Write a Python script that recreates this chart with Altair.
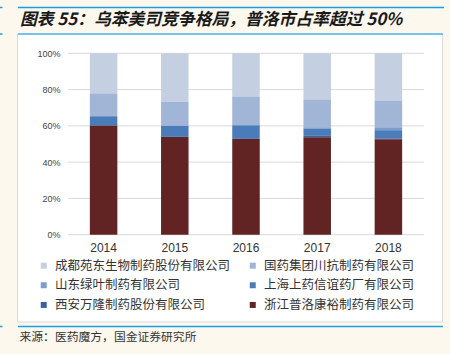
import altair as alt
import pandas as pd

years = ["2014", "2015", "2016", "2017", "2018"]
companies = [
    "成都苑东生物制药股份有限公司",
    "国药集团川抗制药有限公司",
    "山东绿叶制药有限公司",
    "上海上药信谊药厂有限公司",
    "西安万隆制药股份有限公司",
    "浙江普洛康裕制药有限公司",
]
colors = ["#c4cfe2", "#a1b5d6", "#7d9dcb", "#4a7cb9", "#3a62a0", "#622323"]

chengdu = [22.1, 26.6, 23.9, 25.7, 26.1]
guoyao = [12.6, 13.4, 15.8, 15.1, 14.7]
shandong = [0.0, 0.0, 0.0, 0.7, 1.6]
shanghai = [5.3, 6.1, 7.5, 4.0, 4.5]
xian = [0.0, 0.0, 0.0, 0.8, 0.5]
zhejiang = [60.0, 53.9, 52.8, 53.7, 52.6]

y_ticks = [0, 0.2, 0.4, 0.6, 0.8, 1.0]

title_text = "图表 55：乌苯美司竞争格局，普洛市占率超过 50%"
source_text = "来源：医药魔方，国金证券研究所"

series = [chengdu, guoyao, shandong, shanghai, xian, zhejiang]
rows = []
for ci, (name, vals) in enumerate(zip(companies, series)):
    for yr, v in zip(years, vals):
        rows.append({"year": yr, "company": name, "share": v / 100.0, "rank": 5 - ci})
df = pd.DataFrame(rows)

# legend is filled column by column (3 rows): reorder so it reads row by row
leg_idx = [0, 2, 4, 1, 3, 5]
leg_domain = [companies[i] for i in leg_idx]
leg_colors = [colors[i] for i in leg_idx]

OX, OY = 68, 53.3  # plot origin in page pixels
dummy = pd.DataFrame({"a": [0]})
grid_df = pd.DataFrame({"v": y_ticks})


def px(x):
    return alt.value(x - OX)


def py(y):
    return alt.value(y - OY)


yscale = alt.Scale(domain=[0, 1])
yaxis = alt.Axis(
    format=".0%", values=y_ticks, title=None,
    domain=False, ticks=False, grid=False,
    labelFontSize=9, labelColor="#444", labelPadding=8,
    labelFont="Liberation Sans", zindex=1,
)

panel = alt.Chart(dummy).mark_rect(fill="white", stroke="#d9d9d9", strokeWidth=1).encode(
    x=px(17.5), x2=px(442.5), y=py(34), y2=py(322)
)

grid = alt.Chart(grid_df).mark_rule(color="#d9d9d9", strokeWidth=1).encode(
    y=alt.Y("v:Q", scale=yscale, axis=yaxis),
    x=alt.value(0),
    x2=alt.value(356),
)

bars = alt.Chart(df).mark_bar(size=27.5).encode(
    x=alt.X(
        "year:N",
        sort=years,
        scale=alt.Scale(paddingInner=0.61, paddingOuter=0.305),
        axis=alt.Axis(
            title=None, labelAngle=0, ticks=False, domain=False, grid=False,
            labelFontSize=12, labelColor="#333", labelPadding=8,
            labelFont="Liberation Sans", zindex=1,
        ),
    ),
    y=alt.Y("share:Q", stack="zero", scale=yscale, axis=yaxis),
    color=alt.Color(
        "company:N",
        scale=alt.Scale(domain=leg_domain, range=leg_colors),
        legend=alt.Legend(
            title=None, orient="none", legendX=-30.5, legendY=206,
            columns=2, columnPadding=16, rowPadding=6.7, padding=0,
            symbolType="square", symbolSize=36, symbolStrokeWidth=0,
            labelFontSize=12.5, labelFont="Noto Sans CJK SC",
            labelColor="#333", labelOffset=5, labelLimit=400, zindex=1,
        ),
    ),
    order=alt.Order("rank:Q", sort="ascending"),
)

rule_top = alt.Chart(dummy).mark_rule(color="#1a9fe3", strokeWidth=1.5).encode(
    x=px(18), x2=px(444), y=py(7.5)
)
rule_panel = alt.Chart(dummy).mark_rule(color="#74c2ee", strokeWidth=2).encode(
    x=px(18), x2=px(443), y=py(34)
)
rule_bottom = alt.Chart(dummy).mark_rule(color="#1a9fe3", strokeWidth=1.5).encode(
    x=px(18), x2=px(443), y=py(326.5)
)
edge1 = alt.Chart(dummy).mark_rule(color="#1a9fe3", strokeWidth=1.5).encode(
    x=px(0), x2=px(2.5), y=py(7.5)
)
edge2 = alt.Chart(dummy).mark_rule(color="#1a9fe3", strokeWidth=1.5).encode(
    x=px(0), x2=px(2.5), y=py(34)
)
edge3 = alt.Chart(dummy).mark_rule(color="#1a9fe3", strokeWidth=1.5).encode(
    x=px(0), x2=px(2.5), y=py(326.5)
)

title = alt.Chart(dummy).mark_text(
    align="left", baseline="middle", fontSize=16.8, fontWeight="bold",
    fontStyle="italic", font="Noto Sans CJK SC", color="#1a1a1a",
).encode(x=px(20), y=py(19.5), text=alt.value(title_text))

source = alt.Chart(dummy).mark_text(
    align="left", baseline="middle", fontSize=11.8,
    font="Noto Sans CJK SC", color="#333",
).encode(x=px(19.5), y=py(337), text=alt.value(source_text))

chart = alt.layer(
    panel, grid, bars, rule_top, rule_panel, rule_bottom, edge1, edge2, edge3, title, source
).resolve_scale(y="shared").properties(
    width=356,
    height=181.4,
    padding={"left": OX, "top": OY, "right": 26, "bottom": 119.3},
    autosize=alt.AutoSizeParams(type="none"),
    background="#fcf8ee",
).configure_view(stroke=None)

chart.save("out.html", embed_options={"renderer": "svg", "actions": False})
